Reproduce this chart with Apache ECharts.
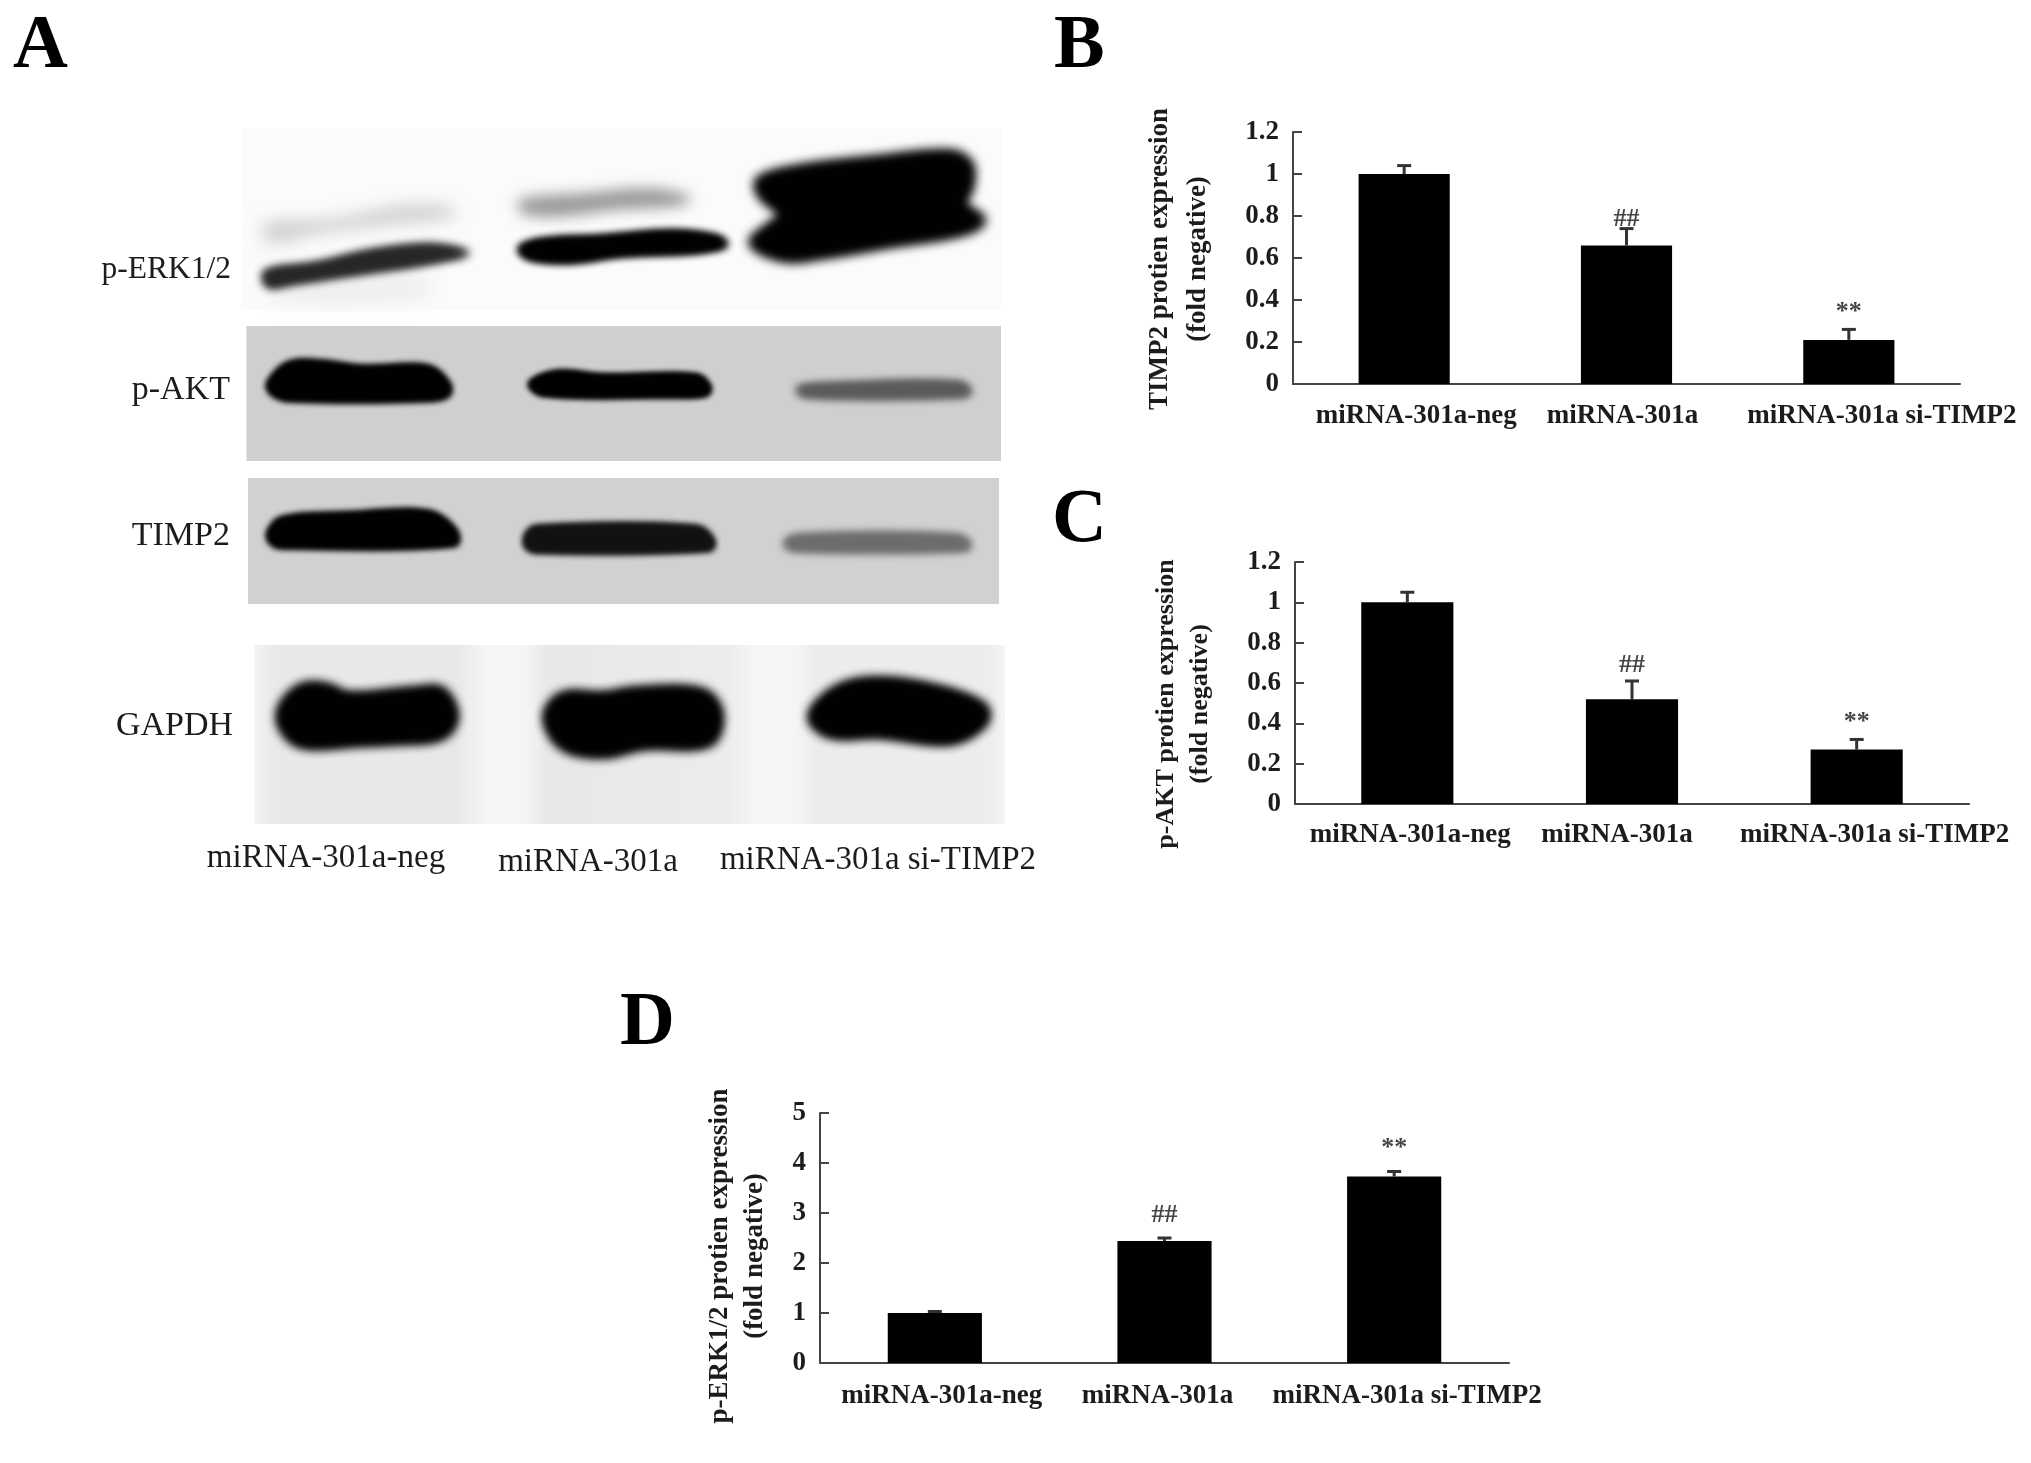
<!DOCTYPE html>
<html><head><meta charset="utf-8">
<style>html,body{margin:0;padding:0;background:#fff}#c{width:2031px;height:1463px;filter:blur(0.6px)}</style>
<script src="https://cdn.jsdelivr.net/npm/echarts@6/dist/echarts.min.js"></script>
</head><body><div id="c"></div>
<script>
const categories = ['miRNA-301a-neg', 'miRNA-301a', 'miRNA-301a si-TIMP2'];
const sigMarks = ['', '##', '**'];
const timp2Values = [1.0, 0.66, 0.21];
const timp2Errors = [0.04, 0.08, 0.05];
const aktValues = [1.0, 0.52, 0.27];
const aktErrors = [0.05, 0.09, 0.05];
const erkValues = [1.0, 2.44, 3.73];
const erkErrors = [0.03, 0.06, 0.1];
const blotRows = ['p-ERK1/2', 'p-AKT', 'TIMP2', 'GAPDH'];
const panelLetters = ['A', 'B', 'C', 'D'];

const SERIF = '"Liberation Serif","Times New Roman",serif';
const INK = '#1c1c1c';

// ---------- bar panels ----------
const panels = [
  {values: timp2Values, errors: timp2Errors, name: 'TIMP2 protien expression\n(fold negative)', size: 27,
   left: 1293, top: 132, width: 667, height: 252, max: 1.2, interval: 0.2, gap: 76, shift: 1, lh: 38, dx: [12, -4, 33], margin: 19, markGap: [-4, 4]},
  {values: aktValues, errors: aktErrors, name: 'p-AKT protien expression\n(fold negative)', size: 26,
   left: 1295, top: 562, width: 674, height: 242, max: 1.2, interval: 0.2, gap: 78, shift: 21, lh: 34, dx: [3, -15, 18], margin: 18, markGap: [3, 4]},
  {values: erkValues, errors: erkErrors, name: 'p-ERK1/2 protien expression\n(fold negative)', size: 27,
   left: 820, top: 1113, width: 689, height: 250, max: 5, interval: 1, gap: 47, shift: 18, lh: 35, dx: [7, -7, 13], margin: 20, markGap: [10, 10]}
];
const grid = [], xAxis = [], yAxis = [], series = [];
const labelFont = {fontFamily: SERIF, fontWeight: 'bold', fontSize: 27, color: INK};
panels.forEach((p, i) => {
  grid.push({left: p.left, top: p.top, width: p.width, height: p.height});
  const rich = {};
  p.dx.forEach((d, k) => {
    rich['l' + k] = Object.assign({}, labelFont, {padding: d >= 0 ? [0, 0, 0, 2 * d] : [0, -2 * d, 0, 0]});
  });
  xAxis.push({
    type: 'category', gridIndex: i, data: categories,
    axisLine: {lineStyle: {color: '#444', width: 2}},
    axisTick: {inside: true, length: 9, alignWithLabel: false, lineStyle: {color: '#444', width: 2}},
    axisLabel: {interval: 0, margin: p.margin, formatter: (v, idx) => '{l' + idx + '|' + v + '}', rich: rich, hideOverlap: false}
  });
  yAxis.push({
    type: 'value', gridIndex: i, min: 0, max: p.max, interval: p.interval,
    name: p.name, nameLocation: 'middle', nameGap: p.gap,
    nameTextStyle: Object.assign({}, labelFont, {fontSize: p.size, lineHeight: p.lh, padding: [0, 2 * p.shift, 0, 0]}),
    axisLine: {show: true, lineStyle: {color: '#444', width: 2}},
    axisTick: {show: true, inside: true, length: 9, lineStyle: {color: '#444', width: 2}},
    splitLine: {show: false},
    axisLabel: Object.assign({}, labelFont, {margin: 14, padding: [2, 0, 0, 0]})
  });
  series.push({
    type: 'bar', xAxisIndex: i, yAxisIndex: i, data: p.values, barWidth: '41%',
    itemStyle: {color: '#000'}, silent: true, animation: false
  });
  series.push({
    type: 'custom', xAxisIndex: i, yAxisIndex: i, silent: true, animation: false, z: 3,
    data: p.values.map((v, k) => [k, v, v + p.errors[k]]),
    renderItem: (params, api) => {
      const base = api.coord([api.value(0), api.value(1)]);
      const top = api.coord([api.value(0), api.value(2)]);
      const mark = sigMarks[params.dataIndex];
      const st = {stroke: '#333', lineWidth: 3};
      const children = [
        {type: 'line', shape: {x1: base[0], y1: base[1], x2: top[0], y2: top[1]}, style: st},
        {type: 'line', shape: {x1: top[0] - 7, y1: top[1], x2: top[0] + 7, y2: top[1]}, style: st}
      ];
      if (mark) children.push({type: 'text', style: {
        text: mark, x: top[0], y: top[1] - p.markGap[mark === '##' ? 0 : 1], align: 'center', verticalAlign: 'bottom',
        font: 'bold 26px ' + SERIF, fill: '#444'}});
      return {type: 'group', children};
    }
  });
});

// ---------- blot illustration (panel A) ----------
const zx = x => x / 1.493;
const yTop = y => 100 + y / 3;
const yLow = y => 460 + y / 3;
const OFF = 4000;
const rect = (x, y, w, h, fill) => ({type: 'rect', z: 1, silent: true, shape: {x, y, width: w, height: h}, style: {fill}});
// soft band: the shape sits off-canvas and only its blurred shadow lands on the picture
const blob = (pts, yf, fill, blur, times) => {
  const one = () => ({
    type: 'polygon', z: 2, silent: true,
    shape: {points: pts.map(p => [zx(p[0]) - OFF, yf(p[1])]), smooth: 0.35},
    style: {fill, shadowBlur: blur, shadowColor: fill, shadowOffsetX: OFF}
  });
  return Array.from({length: times || 1}, one);
};
const gapdhStops = [
  [0, '#f2f2f2'], [0.03, '#e9e9e9'], [0.27, '#e8e8e8'], [0.31, '#f6f6f6'], [0.36, '#f5f5f5'], [0.39, '#e8e8e8'],
  [0.63, '#ececec'], [0.67, '#f6f6f6'], [0.72, '#f5f5f5'], [0.75, '#ececec'], [0.98, '#ededed'], [1, '#f5f5f5']
].map(s => ({offset: s[0], color: s[1]}));
const blots = [
  rect(241, 128, 760, 182, '#fbfbfb'),
  rect(246.5, 326, 754.5, 135, '#cfcfcf'),
  rect(248, 478, 751, 126, '#d1d1d1'),
  rect(254.5, 645, 750.5, 179, {type: 'linear', x: 0, y: 0, x2: 1, y2: 0, colorStops: gapdhStops}),
  // p-ERK1/2
  ...blob([[395,370],[500,355],[600,315],[670,320],[680,350],[580,375],[480,400],[400,430]], yTop, '#d2d2d2', 16),
  ...blob([[400,560],[560,520],[640,540],[630,600],[420,610]], yTop, '#f0f0f0', 16),
  ...blob([[395,515],[470,490],[560,450],[650,435],[700,460],[640,490],[540,520],[440,550],[400,560]], yTop, '#262626', 10, 2),
  ...blob([[775,300],[870,280],[970,265],[1030,290],[1020,315],[920,330],[830,350],[780,340]], yTop, '#999', 14),
  ...blob([[775,445],[810,420],[900,410],[1000,395],[1070,410],[1085,435],[1040,455],[930,465],[850,485],[790,475]], yTop, '#000', 9, 3),
  ...blob([[1130,240],[1180,205],[1300,175],[1420,155],[1450,190],[1450,270],[1440,310],[1470,360],[1440,400],[1320,440],[1230,470],[1170,480],[1120,430],[1150,370],[1165,345],[1135,290]], yTop, '#000', 12, 2),
  // p-AKT
  ...blob([[400,850],[430,790],[480,785],[540,800],[640,800],[670,850],[670,885],[640,900],[430,900],[405,880]], yTop, '#000', 7, 3),
  ...blob([[790,850],[830,815],[900,825],[1040,825],[1060,860],[1055,885],[1000,890],[810,885]], yTop, '#000', 6, 3),
  ...blob([[1190,862],[1250,850],[1430,845],[1450,870],[1440,890],[1200,890]], yTop, '#5a5a5a', 8, 2),
  // TIMP2
  ...blob([[400,220],[420,175],[520,160],[640,155],[680,210],[680,255],[420,262],[405,250]], yLow, '#000', 7, 3),
  ...blob([[785,225],[800,200],[1040,200],[1065,240],[1060,270],[800,275],[785,260]], yLow, '#111', 7, 3),
  ...blob([[1170,250],[1190,225],[1430,225],[1450,255],[1440,272],[1185,272]], yLow, '#6c6c6c', 8, 2),
  // GAPDH
  ...blob([[420,740],[450,680],[490,680],[520,705],[620,690],[660,690],[680,770],[660,830],[590,845],[540,850],[450,855],[420,800]], yLow, '#000', 12, 3),
  ...blob([[815,770],[840,705],[900,705],[950,690],[1050,695],[1075,760],[1060,850],[960,860],[900,885],[840,860]], yLow, '#000', 12, 3),
  ...blob([[1210,770],[1250,685],[1310,660],[1400,685],[1470,740],[1470,790],[1420,845],[1310,825],[1240,825]], yLow, '#000', 12, 3)
];

// ---------- texts ----------
const txt = (text, x, y, size, weight, align) => ({
  type: 'text', z: 5, silent: true, x, y,
  style: {text, font: weight + ' ' + size + 'px ' + SERIF, fill: weight === 'bold' ? '#000' : INK, align: align || 'left', verticalAlign: 'middle'}
});
const blotLabelPos = [[231, 270], [230, 390], [230, 536], [233, 726]];
const blotLabelSize = [31.5, 34, 34, 34];
const laneLabelPos = [[326, 858], [588, 862], [878, 860]];
const letterPos = [[13, 47], [1054, 47], [1052, 521], [620, 1024]];
const texts = [
  ...blotRows.map((t, i) => txt(t, blotLabelPos[i][0], blotLabelPos[i][1], blotLabelSize[i], 'normal', 'right')),
  ...categories.map((t, i) => txt(t, laneLabelPos[i][0], laneLabelPos[i][1], 33, 'normal', 'center')),
  ...panelLetters.map((t, i) => txt(t, letterPos[i][0], letterPos[i][1], 76, 'bold', 'left'))
];

const chart = echarts.init(document.getElementById('c'), null, {renderer: 'canvas', width: 2031, height: 1463});
chart.setOption({
  backgroundColor: '#fff', animation: false,
  grid, xAxis, yAxis, series,
  graphic: {elements: [...blots, ...texts]}
});
</script></body></html>
